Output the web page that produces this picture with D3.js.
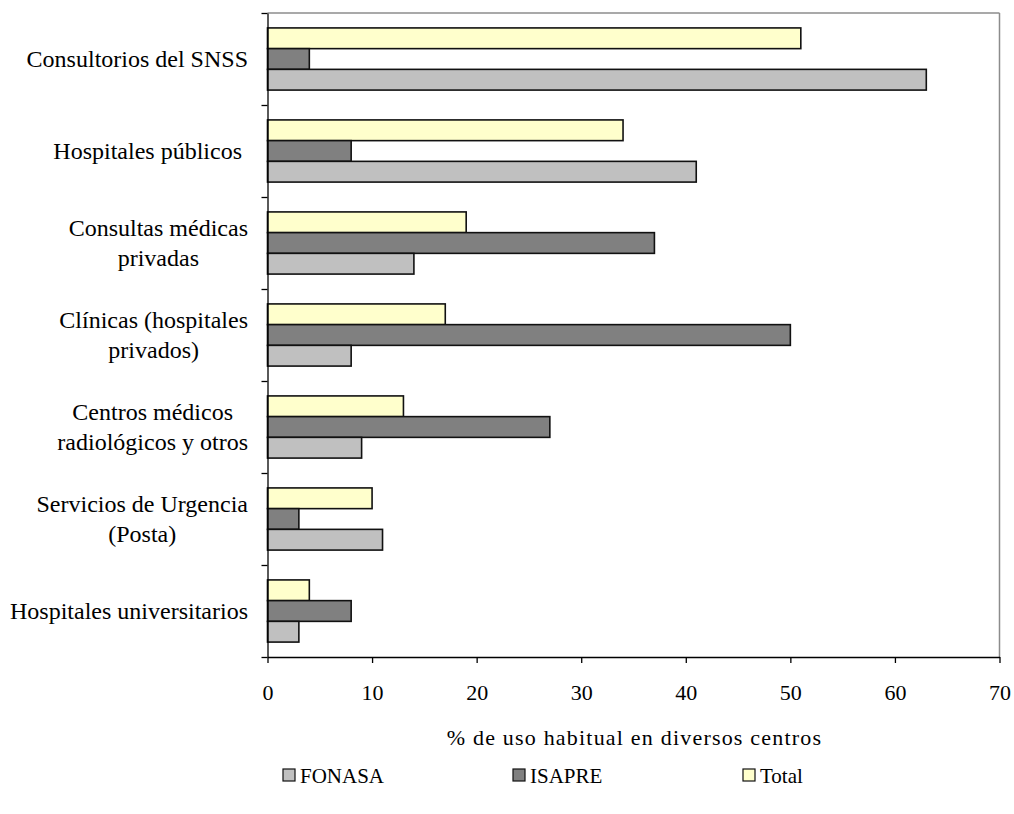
<!DOCTYPE html>
<html>
<head>
<meta charset="utf-8">
<script src="https://cdn.jsdelivr.net/npm/d3@7/dist/d3.min.js"></script>
<style>
  html, body { margin: 0; padding: 0; background: #fff; }
  svg { display: block; }
</style>
</head>
<body>
<svg id="chart" width="1014" height="814"></svg>
<script>
// Centres of habitual use, by health insurance
const categories = [
  "Consultorios del SNSS",
  "Hospitales públicos ",
  "Consultas médicas\nprivadas",
  "Clínicas (hospitales\nprivados)",
  "Centros médicos\nradiológicos y otros",
  "Servicios de Urgencia\n(Posta)",
  "Hospitales universitarios"
];
const seriesNames = ["Total", "ISAPRE", "FONASA"];
const totalValues  = [51, 34, 19, 17, 13, 10, 4];
const isapreValues = [4, 8, 37, 50, 27, 3, 8];
const fonasaValues = [63, 41, 14, 8, 9, 11, 3];
const xTicks = [0, 10, 20, 30, 40, 50, 60, 70];
const legendOrder = ["FONASA", "ISAPRE", "Total"];
const axisTitle = "% de uso habitual en diversos centros";

const valuesBySeries = { "Total": totalValues, "ISAPRE": isapreValues, "FONASA": fonasaValues };
const colors = { "FONASA": "#c0c0c0", "ISAPRE": "#808080", "Total": "#ffffcc" };
const serif = "'Liberation Serif', 'Times New Roman', serif";

const svg = d3.select("#chart");
const plotLeft = 267.5, plotTop = 13, plotRight = 999.5, plotBottom = 657;

const x = d3.scaleLinear().domain([0, 70]).range([plotLeft, plotRight]);
const y = d3.scaleBand().domain(categories).range([plotTop, plotBottom]).padding(0);
const ySub = d3.scaleBand().domain(seriesNames).range([0, y.bandwidth()])
  .paddingInner(0).paddingOuter(0.72);

// frame: grey top and right edges
svg.append("line").attr("x1", plotLeft).attr("x2", plotRight).attr("y1", plotTop).attr("y2", plotTop)
  .attr("stroke", "#8c8c8c").attr("stroke-width", 1.5);
svg.append("line").attr("x1", plotRight).attr("x2", plotRight).attr("y1", plotTop).attr("y2", plotBottom)
  .attr("stroke", "#8c8c8c").attr("stroke-width", 1.5);

// bars
const groups = svg.append("g").selectAll("g")
  .data(categories)
  .join("g")
  .attr("transform", d => `translate(0,${y(d)})`);

groups.selectAll("rect")
  .data((d, i) => seriesNames.map(s => ({ s, v: valuesBySeries[s][i] })))
  .join("rect")
  .attr("x", x(0))
  .attr("y", d => ySub(d.s))
  .attr("width", d => x(d.v) - x(0))
  .attr("height", ySub.bandwidth())
  .attr("fill", d => colors[d.s])
  .attr("stroke", "#111")
  .attr("stroke-width", 1.6);

// category axis: ticks on band boundaries
const yBound = d3.scaleLinear().domain([0, categories.length]).range([plotTop, plotBottom]);
const yAxis = svg.append("g").attr("transform", `translate(${plotLeft},0)`)
  .call(d3.axisLeft(yBound).tickValues(d3.range(categories.length + 1))
    .tickFormat("").tickSize(6).tickSizeOuter(0));
yAxis.selectAll("path, line").attr("stroke", "#000").attr("stroke-width", 1.3);

// value axis
const xAxis = svg.append("g").attr("transform", `translate(0,${plotBottom})`)
  .call(d3.axisBottom(x).tickValues(xTicks).tickSize(6).tickSizeOuter(0).tickPadding(21));
xAxis.attr("font-family", null).attr("font-size", null);
xAxis.selectAll("path, line").attr("stroke", "#000").attr("stroke-width", 1.3);
xAxis.selectAll("text")
  .style("font-family", serif)
  .style("font-size", "22px")
  .attr("fill", "#000");

// category labels (multi-line, centred per block, right-aligned block)
const labelRight = 248, lineH = 30, labelSize = 24;
categories.forEach(c => {
  const lines = c.split("\n");
  const cy = y(c) + y.bandwidth() / 2;
  const t = svg.append("text")
    .style("font-family", serif)
    .style("font-size", labelSize + "px")
    .style("white-space", "pre")
    .attr("fill", "#000");
  const spans = lines.map((ln, i) => t.append("tspan")
    .attr("y", cy + 8 + (i - (lines.length - 1) / 2) * lineH)
    .text(ln));
  if (lines.length === 1) {
    t.attr("text-anchor", "end");
    spans[0].attr("x", labelRight);
  } else {
    const widths = spans.map(s => s.node().getComputedTextLength());
    const w = d3.max(widths);
    t.attr("text-anchor", "middle");
    spans.forEach(s => s.attr("x", labelRight - w / 2));
  }
});

// axis title
svg.append("text")
  .attr("x", (x(0) + x(70)) / 2 + 1)
  .attr("y", 745)
  .attr("text-anchor", "middle")
  .style("font-family", serif)
  .style("font-size", "22px")
  .style("letter-spacing", "1.2px")
  .attr("fill", "#000")
  .text(axisTitle);

// legend
const legendX = d3.scalePoint().domain(legendOrder).range([283, 743]);
const leg = svg.append("g").selectAll("g")
  .data(legendOrder)
  .join("g")
  .attr("transform", d => `translate(${legendX(d)},775)`);
leg.append("rect")
  .attr("x", 0).attr("y", -6).attr("width", 12).attr("height", 12)
  .attr("fill", d => colors[d]).attr("stroke", "#111").attr("stroke-width", 1.2);
leg.append("text")
  .attr("x", 17).attr("y", 7.5)
  .style("font-family", serif)
  .style("font-size", "21px")
  .attr("fill", "#000")
  .text(d => d);
</script>
</body>
</html>
